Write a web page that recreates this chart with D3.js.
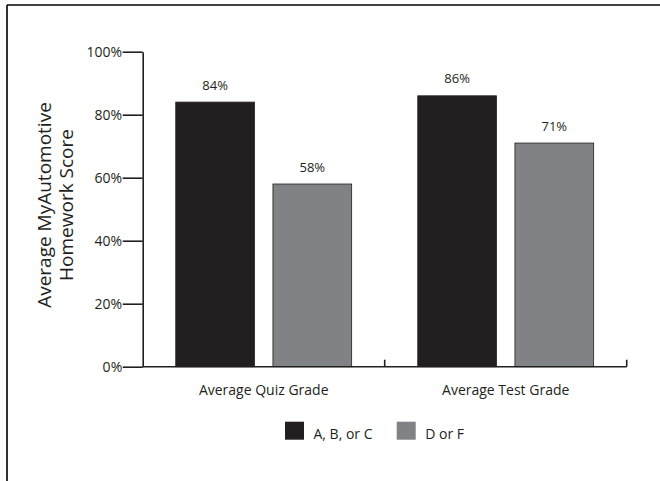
<!DOCTYPE html>
<html>
<head>
<meta charset="utf-8">
<script src="https://cdn.jsdelivr.net/npm/d3@7"></script>
<style>
  html, body { margin: 0; padding: 0; background: #fff; }
  svg { display: block; font-family: "Open Sans", "Noto Sans", sans-serif; }
</style>
</head>
<body>
<svg id="chart" width="660" height="481"></svg>
<script>
// data
const groups = ["Average Quiz Grade", "Average Test Grade"];
const series = ["A, B, or C", "D or F"];
const abcValues = [0.84, 0.86];
const dfValues = [0.58, 0.71];
const yTicks = [0, 0.2, 0.4, 0.6, 0.8, 1.0];

const colors = { "A, B, or C": "#231f20", "D or F": "#808285" };
const ink = "#231f20";

const svg = d3.select("#chart");

// frame (only top and left edges are visible)
svg.append("line").attr("x1", 7).attr("x2", 660).attr("y1", 5).attr("y2", 5)
  .attr("stroke", "#000").attr("stroke-width", 1.6);
svg.append("line").attr("x1", 7).attr("x2", 7).attr("y1", 5).attr("y2", 481)
  .attr("stroke", "#000").attr("stroke-width", 1.6);

const plotLeft = 142.7, plotRight = 626.7, plotTop = 51.7, plotBottom = 366.7;

const x0 = d3.scaleBand().domain(groups).range([plotLeft, plotRight]).padding(0);
const x1 = d3.scaleBand().domain(series).range([0, x0.bandwidth()])
  .paddingInner(0.19).paddingOuter(0.34);
const y = d3.scaleLinear().domain([0, 1]).range([plotBottom, plotTop]);

const rows = groups.map((g, i) => ({ group: g, values: [abcValues[i], dfValues[i]] }));

// bars
const gGroups = svg.selectAll("g.grp").data(rows).enter().append("g")
  .attr("class", "grp")
  .attr("transform", d => `translate(${x0(d.group)},0)`);

gGroups.selectAll("rect")
  .data(d => d.values.map((v, i) => ({ key: series[i], value: v })))
  .enter().append("rect")
  .attr("x", d => x1(d.key))
  .attr("y", d => y(d.value))
  .attr("width", x1.bandwidth())
  .attr("height", d => y(0) - y(d.value))
  .attr("fill", d => colors[d.key])
  .attr("stroke", ink)
  .attr("stroke-width", 0.8);

// value labels
gGroups.selectAll("text.val")
  .data(d => d.values.map((v, i) => ({ key: series[i], value: v })))
  .enter().append("text")
  .attr("class", "val")
  .attr("x", d => x1(d.key) + x1.bandwidth() / 2)
  .attr("y", d => y(d.value) - 12.5)
  .attr("text-anchor", "middle")
  .attr("font-size", "13px")
  .attr("fill", ink)
  .text(d => d3.format(".0%")(d.value));

// y axis
const yAxis = svg.append("g")
  .attr("transform", `translate(${plotLeft},0)`)
  .call(d3.axisLeft(y).tickValues(yTicks).tickSize(20).tickSizeOuter(0)
    .tickFormat(d3.format(".0%")));
yAxis.select(".domain").attr("stroke", ink).attr("stroke-width", 1.6);
yAxis.selectAll(".tick line").attr("stroke", ink).attr("stroke-width", 1.6);
yAxis.selectAll(".tick text").attr("x", -20.5).attr("dy", "0.36em")
  .attr("font-size", "14px").attr("fill", ink)
  .attr("font-family", "\"Open Sans\", sans-serif");

// x axis line with upward ticks at group boundaries
svg.append("line").attr("x1", plotLeft).attr("x2", plotRight)
  .attr("y1", plotBottom).attr("y2", plotBottom)
  .attr("stroke", ink).attr("stroke-width", 1.6);
svg.selectAll("line.xtick").data(groups).enter().append("line")
  .attr("class", "xtick")
  .attr("x1", d => x0(d) + x0.bandwidth()).attr("x2", d => x0(d) + x0.bandwidth())
  .attr("y1", plotBottom).attr("y2", plotBottom - 7)
  .attr("stroke", ink).attr("stroke-width", 1.6);

// x labels
svg.selectAll("text.xlab").data(groups).enter().append("text")
  .attr("class", "xlab")
  .attr("x", d => x0(d) + x0.bandwidth() / 2)
  .attr("y", 394.5)
  .attr("text-anchor", "middle")
  .attr("font-size", "14px")
  .attr("fill", ink)
  .text(d => d);

// y title (two lines, rotated)
const yTitle = svg.append("text")
  .attr("transform", "translate(0,205) rotate(-90)")
  .attr("text-anchor", "middle")
  .attr("font-size", "19px")
  .attr("fill", ink);
yTitle.append("tspan").attr("x", 0).attr("y", 51).text("Average MyAutomotive");
yTitle.append("tspan").attr("x", 0).attr("y", 73).text("Homework Score");

// legend
const legendX = [285, 396.7];
const legend = svg.selectAll("g.leg").data(series).enter().append("g")
  .attr("class", "leg")
  .attr("transform", (d, i) => `translate(${legendX[i]},421.7)`);
legend.append("rect").attr("width", 19).attr("height", 18)
  .attr("fill", d => colors[d]);
legend.append("text").attr("x", 28.5).attr("y", 17.5)
  .attr("font-size", "14px").attr("fill", ink)
  .text(d => d);
</script>
</body>
</html>
